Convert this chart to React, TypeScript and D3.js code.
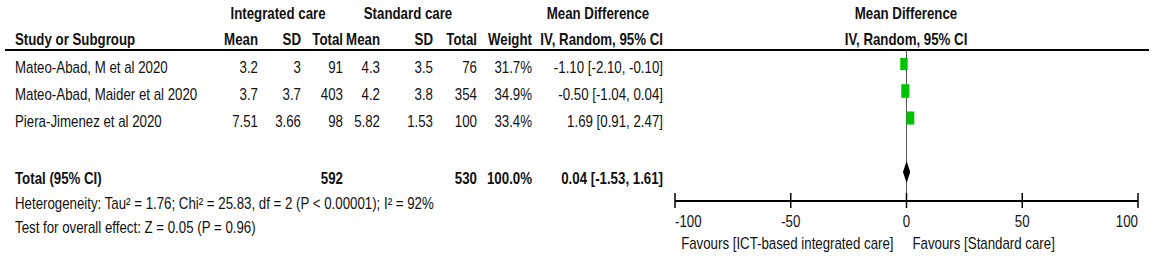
import React from "react";
import * as d3 from "d3";

const studies = ["Mateo-Abad, M et al 2020", "Mateo-Abad, Maider et al 2020", "Piera-Jimenez et al 2020"];
const intMean = ["3.2", "3.7", "7.51"];
const intSD = ["3", "3.7", "3.66"];
const intTotal = [91, 403, 98];
const stdMean = ["4.3", "4.2", "5.82"];
const stdSD = ["3.5", "3.8", "1.53"];
const stdTotal = [76, 354, 100];
const weights = [31.7, 34.9, 33.4];
const md = [-1.1, -0.5, 1.69];
const ciLow = [-2.1, -1.04, 0.91];
const ciHigh = [-0.1, 0.04, 2.47];
const pooled = { md: 0.04, lo: -1.53, hi: 1.61, intTotal: 592, stdTotal: 530, weight: 100 };
const axisTicks = [-100, -50, 0, 50, 100];
const heterogeneity = "Heterogeneity: Tau\u00b2 = 1.76; Chi\u00b2 = 25.83, df = 2 (P < 0.00001); I\u00b2 = 92%";
const overallTest = "Test for overall effect: Z = 0.05 (P = 0.96)";
const favoursLeft = "Favours [ICT-based integrated care]";
const favoursRight = "Favours [Standard care]";

const FONT = "'Liberation Sans', Arial, sans-serif";
const FS = 16;
const SX = 0.83;

function fmtCI(m: number, l: number, h: number) {
  return `${m.toFixed(2)} [${l.toFixed(2)}, ${h.toFixed(2)}]`;
}

const T = ({ x, y, children, ...rest }: any) => (
  <text
    transform={`translate(${x},${y}) scale(${SX},1)`}
    fontFamily={FONT}
    fontSize={FS}
    fill="#111"
    {...rest}
  >
    {children}
  </text>
);

export default function App() {
  const x = d3.scaleLinear().domain([-100, 100]).range([675, 1138]);
  const rowBase = [73, 100, 127];
  const totalBase = 184;
  const axisY = 201;
  const cols = { im: 258, isd: 301, it: 343, sm: 380, ssd: 433, st: 477, w: 532, ci: 663 };
  const diamond = d3.line<[number, number]>()([
    [x(pooled.lo), totalBase - 12],
    [x(pooled.md), totalBase - 23],
    [x(pooled.hi), totalBase - 12],
    [x(pooled.md), totalBase - 1],
  ]) + "Z";
  return (
    <svg width={1154} height={261} style={{ position: "absolute", left: 0, top: 0, background: "#fff" }}>
      <rect width={1154} height={261} fill="#fff" />
      {/* headers */}
      <T x={278} y={19} textAnchor="middle" fontWeight="bold">Integrated care</T>
      <T x={408} y={19} textAnchor="middle" fontWeight="bold">Standard care</T>
      <T x={598} y={19} textAnchor="middle" fontWeight="bold">Mean Difference</T>
      <T x={906} y={19} textAnchor="middle" fontWeight="bold">Mean Difference</T>
      <T x={15} y={45} fontWeight="bold">Study or Subgroup</T>
      <T x={cols.im} y={45} textAnchor="end" fontWeight="bold">Mean</T>
      <T x={cols.isd} y={45} textAnchor="end" fontWeight="bold">SD</T>
      <T x={cols.it} y={45} textAnchor="end" fontWeight="bold">Total</T>
      <T x={cols.sm} y={45} textAnchor="end" fontWeight="bold">Mean</T>
      <T x={cols.ssd} y={45} textAnchor="end" fontWeight="bold">SD</T>
      <T x={cols.st} y={45} textAnchor="end" fontWeight="bold">Total</T>
      <T x={cols.w} y={45} textAnchor="end" fontWeight="bold">Weight</T>
      <T x={cols.ci} y={45} textAnchor="end" fontWeight="bold">IV, Random, 95% CI</T>
      <T x={906} y={45} textAnchor="middle" fontWeight="bold">IV, Random, 95% CI</T>
      <line x1={5} x2={1149} y1={50} y2={50} stroke="#000" strokeWidth={2} />
      {/* zero line */}
      <line x1={x(0)} x2={x(0)} y1={50} y2={axisY} stroke="#555" strokeWidth={1} />
      {studies.map((s, i) => {
        const b = rowBase[i];
        const h = weights[i] * 0.39;
        const w = h * 0.6;
        return (
          <g key={s}>
            <T x={15} y={b}>{s}</T>
            <T x={cols.im} y={b} textAnchor="end">{intMean[i]}</T>
            <T x={cols.isd} y={b} textAnchor="end">{intSD[i]}</T>
            <T x={cols.it} y={b} textAnchor="end">{intTotal[i]}</T>
            <T x={cols.sm} y={b} textAnchor="end">{stdMean[i]}</T>
            <T x={cols.ssd} y={b} textAnchor="end">{stdSD[i]}</T>
            <T x={cols.st} y={b} textAnchor="end">{stdTotal[i]}</T>
            <T x={cols.w} y={b} textAnchor="end">{weights[i].toFixed(1)}%</T>
            <T x={cols.ci} y={b} textAnchor="end">{fmtCI(md[i], ciLow[i], ciHigh[i])}</T>
            <line x1={x(ciLow[i])} x2={x(ciHigh[i])} y1={b - 9} y2={b - 9} stroke="#000" strokeWidth={1} />
            <rect x={x(md[i]) - w / 2} y={b - 9 - h / 2} width={w} height={h} fill="#00c400" />
          </g>
        );
      })}
      {/* total row */}
      <T x={15} y={totalBase} fontWeight="bold">Total (95% CI)</T>
      <T x={cols.it} y={totalBase} textAnchor="end" fontWeight="bold">{pooled.intTotal}</T>
      <T x={cols.st} y={totalBase} textAnchor="end" fontWeight="bold">{pooled.stdTotal}</T>
      <T x={cols.w} y={totalBase} textAnchor="end" fontWeight="bold">{pooled.weight.toFixed(1)}%</T>
      <T x={cols.ci} y={totalBase} textAnchor="end" fontWeight="bold">{fmtCI(pooled.md, pooled.lo, pooled.hi)}</T>
      <path d={diamond} fill="#000" />
      <T x={15} y={209}>{heterogeneity}</T>
      <T x={15} y={233}>{overallTest}</T>
      {/* axis */}
      <line x1={x(-100)} x2={x(100)} y1={axisY} y2={axisY} stroke="#000" strokeWidth={2} />
      {axisTicks.map((t, i) => (
        <g key={t}>
          <line x1={x(t)} x2={x(t)} y1={193} y2={208} stroke="#000" strokeWidth={1.5} />
          <T x={x(t)} y={227} textAnchor={i === 0 ? "start" : i === axisTicks.length - 1 ? "end" : "middle"}>{t}</T>
        </g>
      ))}
      <T x={x(0) - 13} y={249} textAnchor="end">{favoursLeft}</T>
      <T x={x(0) + 6} y={249}>{favoursRight}</T>
    </svg>
  );
}
